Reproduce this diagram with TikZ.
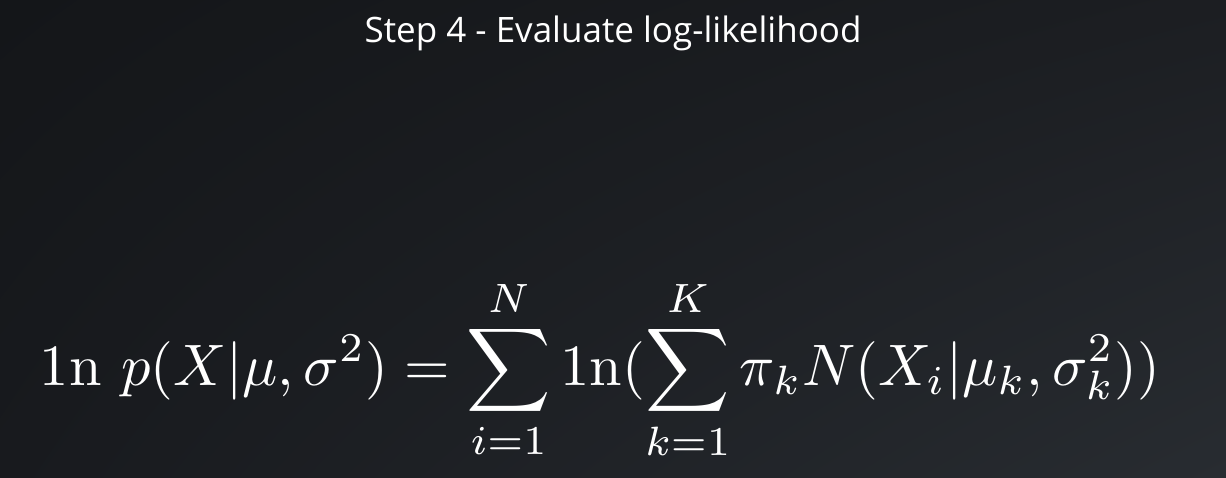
\documentclass[tikz,border=0pt]{standalone}
\usepackage{fontspec}
\usepackage{amsmath}
\newfontfamily\titlefont{Open Sans}
\usetikzlibrary{positioning,shadings}

\definecolor{bgtl}{RGB}{20,22,25}
\definecolor{bgtr}{RGB}{28,30,34}
\definecolor{bgbl}{RGB}{24,26,30}
\definecolor{bgbr}{RGB}{40,44,49}

\begin{document}
\begin{tikzpicture}[x=1pt,y=1pt]
          \shade[upper left=bgtl, upper right=bgtr, lower left=bgbl, lower right=bgbr]
          (0,-477) rectangle (1226,0);
          \useasboundingbox (0,-477) rectangle (1226,0);

          \node[text=white, font=\titlefont\fontsize{35}{42}\selectfont] (title) at (613,-33) {Step 4 - Evaluate log-likelihood};
          \node[text=white, scale=5.85] (loglik) at (600,-370)
          {$\displaystyle 1\mathrm{n}\ p(X|\mu,\sigma^2)=\sum_{i=1}^{N}1\mathrm{n}(\sum_{k=1}^{K}\pi_k N(X_i|\mu_k,\sigma_k^2))$};
        \end{tikzpicture}
\end{document}
